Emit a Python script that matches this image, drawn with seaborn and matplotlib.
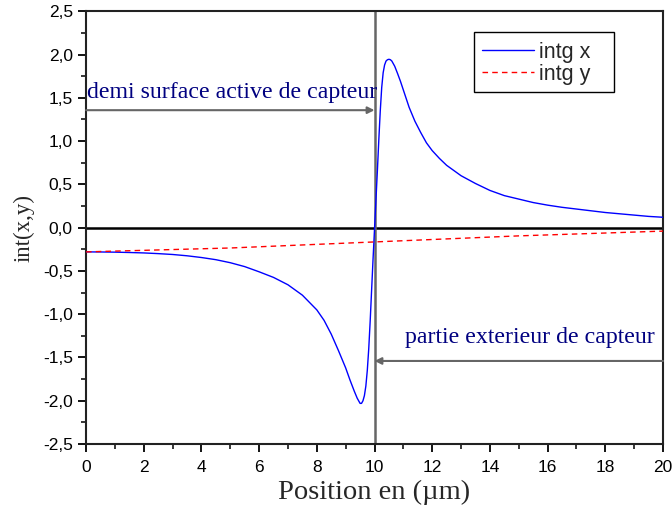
import numpy as np
import pandas as pd
import matplotlib
matplotlib.use("Agg")
import matplotlib.pyplot as plt
from matplotlib.patches import Rectangle
from matplotlib.ticker import MultipleLocator, FuncFormatter
import seaborn as sns

# Integrated field components along the sensor (position in µm)
pos_x = [0, 0.5, 1, 1.5, 2, 2.5, 3, 3.5, 4, 4.5, 5, 5.5, 6, 6.5, 7, 7.5, 8,
         8.25, 8.5, 8.75, 9.0, 9.15, 9.3, 9.4, 9.5, 9.55, 9.6, 9.65, 9.7,
         9.75, 9.8, 9.85, 9.9, 9.95, 10.0, 10.05, 10.1, 10.15, 10.2, 10.25,
         10.3, 10.35, 10.4, 10.45, 10.5, 10.55, 10.6, 10.7, 10.8, 10.9, 11.0,
         11.2, 11.4, 11.6, 11.8, 12.0, 12.25, 12.5, 12.75, 13.0, 13.5, 14.0,
         14.5, 15.0, 15.5, 16.0, 16.5, 17.0, 17.5, 18.0, 18.5, 19.0, 19.5, 20.0]
intg_x = [-0.280, -0.281, -0.283, -0.287, -0.292, -0.300, -0.310, -0.325,
          -0.345, -0.370, -0.405, -0.450, -0.510, -0.575, -0.660, -0.780,
          -0.950, -1.07, -1.23, -1.42, -1.62, -1.76, -1.89, -1.97, -2.03,
          -2.03, -2.00, -1.94, -1.83, -1.65, -1.40, -1.08, -0.72, -0.36,
          -0.02, 0.32, 0.66, 1.02, 1.35, 1.62, 1.79, 1.88, 1.925, 1.94, 1.945,
          1.94, 1.925, 1.865, 1.78, 1.69, 1.59, 1.39, 1.23, 1.10, 0.98, 0.89,
          0.80, 0.72, 0.66, 0.60, 0.51, 0.43, 0.37, 0.33, 0.29, 0.26, 0.235,
          0.215, 0.195, 0.175, 0.16, 0.145, 0.13, 0.12]

pos_y = [0, 5, 10, 15, 20]
intg_y = [-0.28, -0.235, -0.165, -0.095, -0.04]

x_ticks = [0, 2, 4, 6, 8, 10, 12, 14, 16, 18, 20]
y_ticks = [-2.5, -2.0, -1.5, -1.0, -0.5, 0.0, 0.5, 1.0, 1.5, 2.0, 2.5]

sensor_edge = 10
label_inside = "demi surface active de capteur"
label_outside = "partie exterieur de capteur"

sns.set_theme(style="ticks")
plt.rcParams["font.family"] = ["Liberation Sans", "DejaVu Sans"]

fig = plt.figure(figsize=(6.72, 5.11), dpi=100)
ax = fig.add_axes([0.128, 0.131, 0.8586, 0.847])

df_x = pd.DataFrame({"pos": pos_x, "val": intg_x})
df_y = pd.DataFrame({"pos": pos_y, "val": intg_y})
sns.lineplot(data=df_x, x="pos", y="val", ax=ax, color="#0000ff", lw=1.0,
             label="intg x", zorder=4)
sns.lineplot(data=df_y, x="pos", y="val", ax=ax, color="#ff0000", lw=1.0,
             dashes=False, label="intg y", zorder=4)
ax.lines[-1].set_dashes([4, 3])

ax.axhline(0, color="black", lw=1.8, zorder=2)
ax.axvline(sensor_edge, color="#666666", lw=1.8, zorder=2)

ax.set_xlim(0, 20)
ax.set_ylim(-2.5, 2.5)
ax.set_xticks(x_ticks)
ax.set_yticks(y_ticks)
ax.xaxis.set_minor_locator(MultipleLocator(1))
ax.yaxis.set_minor_locator(MultipleLocator(0.25))
ax.yaxis.set_major_formatter(FuncFormatter(lambda v, p: f"{v:.1f}".replace(".", ",")))
ax.tick_params(axis="both", which="major", direction="out", length=6, width=1.3,
               labelsize=12.5, colors="black", pad=3.5)
ax.tick_params(axis="x", which="major", pad=5.5)
ax.tick_params(axis="both", which="minor", direction="out", length=3.5, width=1.3)
for s in ax.spines.values():
    s.set_linewidth(1.5)
    s.set_color("#222222")

serif = ["Liberation Serif", "DejaVu Serif"]
ax.set_xlabel("Position en (µm)", fontsize=20.5, family=serif, labelpad=3.5)
ax.set_ylabel("int(x,y)", fontsize=16.5, family=serif, labelpad=6)

# Region annotations with arrows pointing at the sensor edge
ax.annotate("", xy=(sensor_edge, 1.357), xytext=(0, 1.357),
            arrowprops=dict(arrowstyle="-|>", color="#666666", lw=1.5,
                            mutation_scale=10, shrinkA=0, shrinkB=0))
ax.text(0.03, 1.495, label_inside, fontsize=17.2, family=serif, color="#000080",
        ha="left", va="baseline")
ax.annotate("", xy=(sensor_edge, -1.54), xytext=(20, -1.54),
            arrowprops=dict(arrowstyle="-|>", color="#666666", lw=1.5,
                            mutation_scale=10, shrinkA=0, shrinkB=0))
ax.text(19.73, -1.335, label_outside, fontsize=17.2, family=serif, color="#000080",
        ha="right", va="baseline")

# Legend entries without their own frame; the box is drawn separately
leg = ax.legend(loc="upper left", bbox_to_anchor=(0.6755, 0.944), fontsize=15.5,
                frameon=False, handlelength=2.4,
                borderpad=0.3, labelspacing=0.05, handletextpad=0.25,
                borderaxespad=0)
leg.set_zorder(6)
ax.add_patch(Rectangle((0.6724, 0.813), 0.2426, 0.1385, transform=ax.transAxes,
                       facecolor="white", edgecolor="black", lw=1.0, zorder=5))

fig.savefig("out.png", dpi=100)
